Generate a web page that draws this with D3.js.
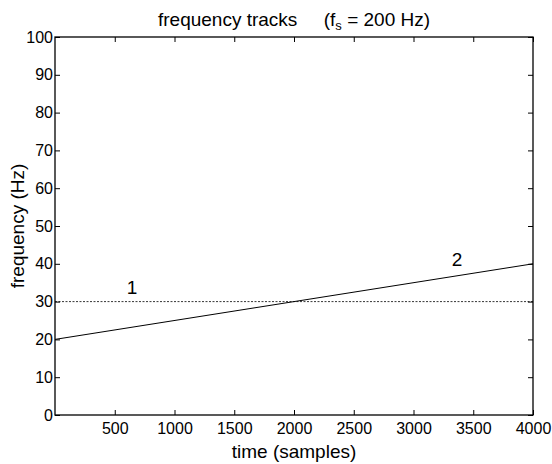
<!DOCTYPE html>
<html>
<head>
<meta charset="utf-8">
<script src="https://cdn.jsdelivr.net/npm/d3@7"></script>
<style>
  body { margin: 0; background: #fff; }
  text { font-family: "Liberation Sans", Arial, sans-serif; fill: #000; }
</style>
</head>
<body>
<svg id="chart" width="552" height="464"></svg>
<script>
// data
let time_samples = [0, 4000];
let track1_hz = [30, 30];
let track2_hz = [20, 40];
let track_labels = ["1", "2"];
let label_pos = [[644, 33.9], [3364, 41.3]];
let x_ticks = [500, 1000, 1500, 2000, 2500, 3000, 3500, 4000];
let y_ticks = [0, 10, 20, 30, 40, 50, 60, 70, 80, 90, 100];

let svg = d3.select("#chart");

let margin = {top: 37, right: 19, bottom: 49, left: 55},
    width  = 552 - margin.left - margin.right,
    height = 464 - margin.top - margin.bottom;

let x = d3.scaleLinear().domain([0, 4000]).range([0, width]),
    y = d3.scaleLinear().domain([0, 100]).range([height, 0]);

let g = svg.append("g").attr("transform", `translate(${margin.left}, ${margin.top})`);

// axes with inward ticks on all four sides
function style_axis(sel) {
    sel.select(".domain").remove();
    sel.selectAll("line").attr("stroke", "#000");
    sel.selectAll("text").style("font-size", "16px");
}

g.append("g")
    .attr("transform", `translate(0, ${height})`)
    .call(d3.axisBottom(x).tickValues(x_ticks).tickSize(-5).tickPadding(8).tickFormat(d3.format("d")))
    .call(style_axis);

g.append("g")
    .call(d3.axisTop(x).tickValues(x_ticks).tickSize(-5).tickFormat(""))
    .call(style_axis);

g.append("g")
    .call(d3.axisLeft(y).tickValues(y_ticks).tickSize(-5).tickPadding(2))
    .call(style_axis);

g.append("g")
    .attr("transform", `translate(${width}, 0)`)
    .call(d3.axisRight(y).tickValues(y_ticks).tickSize(-5).tickFormat(""))
    .call(style_axis);

g.append("rect")
    .attr("width", width).attr("height", height)
    .attr("fill", "none").attr("stroke", "#000").attr("stroke-width", 1.3);

// tracks
let line = d3.line().x((d) => x(d[0])).y((d) => y(d[1]));

g.append("path")
    .datum(time_samples.map((t, i) => [t, track1_hz[i]]))
    .attr("d", line)
    .attr("fill", "none").attr("stroke", "#000").attr("stroke-width", 0.8)
    .attr("stroke-dasharray", "2,1.5");

g.append("path")
    .datum(time_samples.map((t, i) => [t, track2_hz[i]]))
    .attr("d", line)
    .attr("fill", "none").attr("stroke", "#000").attr("stroke-width", 1);

g.selectAll("text.track-label")
    .data(track_labels).enter()
    .append("text")
    .classed("track-label", true)
    .attr("x", (d, i) => x(label_pos[i][0]))
    .attr("y", (d, i) => y(label_pos[i][1]))
    .attr("text-anchor", "middle")
    .attr("dy", "0.36em")
    .style("font-size", "19px")
    .text((d) => d);

// titles
let title = svg.append("text")
    .attr("x", margin.left + width / 2)
    .attr("y", 26)
    .attr("text-anchor", "middle")
    .style("font-size", "19px")
    .style("white-space", "pre");
title.append("tspan").text("frequency tracks     (f");
title.append("tspan").attr("dy", 4).style("font-size", "13px").text("s");
title.append("tspan").attr("dy", -4).text(" = 200 Hz)");

svg.append("text")
    .attr("x", margin.left + width / 2)
    .attr("y", 458)
    .attr("text-anchor", "middle")
    .style("font-size", "19px")
    .text("time (samples)");

svg.append("text")
    .attr("transform", `translate(24, ${margin.top + height / 2}) rotate(-90)`)
    .attr("text-anchor", "middle")
    .style("font-size", "19px")
    .text("frequency (Hz)");
</script>
</body>
</html>
